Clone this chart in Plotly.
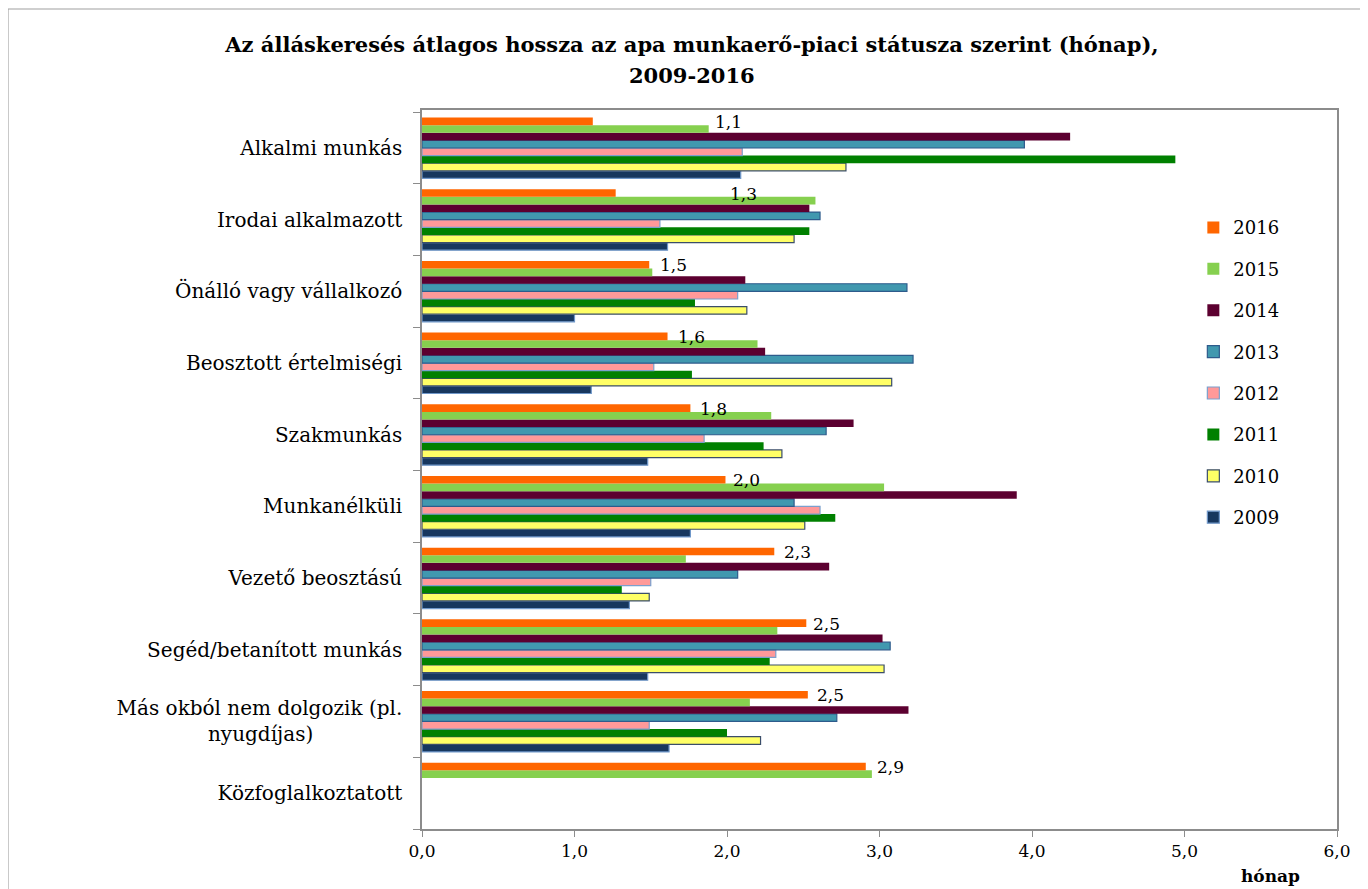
import plotly.graph_objects as go

NB = "\u00a0"
categories = [
    "Alkalmi munkás",
    "Irodai alkalmazott",
    "Önálló vagy vállalkozó",
    "Beosztott értelmiségi",
    "Szakmunkás",
    "Munkanélküli",
    "Vezető beosztású",
    "Segéd/betanított munkás",
    "Más okból nem dolgozik (pl.<br>nyugdíjas)" + NB * 14,
    "Közfoglalkoztatott",
]

years = ["2009", "2010", "2011", "2012", "2013", "2014", "2015", "2016"]

v2016 = [1.12, 1.27, 1.49, 1.61, 1.76, 1.99, 2.31, 2.52, 2.53, 2.91]
v2015 = [1.88, 2.58, 1.51, 2.20, 2.29, 3.03, 1.73, 2.33, 2.15, 2.95]
v2014 = [4.25, 2.54, 2.12, 2.25, 2.83, 3.90, 2.67, 3.02, 3.19, None]
v2013 = [3.95, 2.61, 3.18, 3.22, 2.65, 2.44, 2.07, 3.07, 2.72, None]
v2012 = [2.10, 1.56, 2.07, 1.52, 1.85, 2.61, 1.50, 2.32, 1.49, None]
v2011 = [4.94, 2.54, 1.79, 1.77, 2.24, 2.71, 1.31, 2.28, 2.00, None]
v2010 = [2.78, 2.44, 2.13, 3.08, 2.36, 2.51, 1.49, 3.03, 2.22, None]
v2009 = [2.09, 1.61, 1.00, 1.11, 1.48, 1.76, 1.36, 1.48, 1.62, None]

# horizontal position (centre) of the 2016 value labels
label_x = [2.01, 2.11, 1.65, 1.77, 1.91, 2.13, 2.46, 2.65, 2.68, 3.07]

series = {
    "2009": v2009, "2010": v2010, "2011": v2011, "2012": v2012,
    "2013": v2013, "2014": v2014, "2015": v2015, "2016": v2016,
}
fills = {
    "2009": "#17375E", "2010": "#FFFF66", "2011": "#008000", "2012": "#FF9999",
    "2013": "#4198AF", "2014": "#5C0030", "2015": "#86D04F", "2016": "#FF6600",
}
edges = {
    "2009": ("#6F97C9", 1.2), "2010": ("#3B4E6A", 1.2), "2011": ("#008000", 0),
    "2012": ("#7BA0CD", 1.2), "2013": ("#2E5B8C", 1.2), "2014": ("#5C0030", 0),
    "2015": ("#86D04F", 0), "2016": ("#FF6600", 0),
}

FONT = "DejaVu Serif"

fig = go.Figure()
for i, yr in enumerate(years):
    fig.add_trace(go.Bar(
        y=categories, x=series[yr], name=yr, orientation="h",
        marker=dict(color=fills[yr], line=dict(color=edges[yr][0], width=edges[yr][1])),
        legendgroup=yr, legendrank=1000 - i,
    ))

for cat, v, lx in zip(categories, v2016, label_x):
    fig.add_annotation(
        x=lx, y=cat, xref="x", yref="y", text=f"{v:.1f}".replace(".", ","),
        showarrow=False, yshift=26, font=dict(family=FONT, size=17, color="#000000"),
        xanchor="center", yanchor="middle",
    )

fig.add_annotation(
    x=1.0, y=0, xref="paper", yref="paper", text="<b>hónap</b>", showarrow=False,
    xanchor="right", yanchor="middle", xshift=-35, yshift=-47,
    font=dict(family=FONT, size=17, color="#000000"),
)

# second title line (centred on the whole figure)
fig.add_annotation(
    x=(684 - 414) / 915, y=(821 - 67) / 719, xref="paper", yref="paper",
    xanchor="center", yanchor="middle",
    text="<b>2009-2016</b>", showarrow=False,
    font=dict(family=FONT, size=21, color="#000000"),
)

# outer chart border
fig.add_shape(type="rect", xref="paper", yref="paper",
              x0=-0.4525, x1=1.0295, y0=-0.2, y1=1.1405,
              line=dict(color="#A0A0A0", width=1.2), fillcolor="rgba(0,0,0,0)")

fig.update_layout(
    width=1368, height=889,
    barmode="group", bargap=0.15, bargroupgap=0,
    separators=", ",
    paper_bgcolor="white", plot_bgcolor="white",
    margin=dict(l=414, r=39, t=102, b=68),
    title=dict(
        text="<b>Az álláskeresés átlagos hossza az apa munkaerő-piaci státusza szerint (hónap),</b>",
        x=0.5, xref="container", xanchor="center",
        y=1 - 37 / 889, yref="container", yanchor="middle",
        font=dict(family=FONT, size=21, color="#000000"),
    ),
    font=dict(family=FONT, size=19, color="#000000"),
    legend=dict(
        x=0.843, y=0.862, xanchor="left", yanchor="top",
        traceorder="grouped", tracegroupgap=15,
        font=dict(family=FONT, size=18, color="#000000"),
        bgcolor="rgba(255,255,255,0)",
    ),
    showlegend=True,
)

fig.update_xaxes(
    range=[0, 6], dtick=1, tickformat=".1f",
    showgrid=False, zeroline=False,
    showline=True, linecolor="#8C8C8C", linewidth=1.5, mirror=True,
    ticks="outside", ticklen=6, tickcolor="#8C8C8C",
    tickfont=dict(family=FONT, size=17),
)
fig.update_yaxes(
    categoryorder="array", categoryarray=list(reversed(categories)),
    showgrid=False,
    showline=True, linecolor="#8C8C8C", linewidth=1.5, mirror=True,
    ticks="outside", ticklen=7, tickcolor="#8C8C8C", tickson="boundaries",
    tickfont=dict(family=FONT, size=20),
    ticklabelstandoff=14,
)

fig.write_html("out.html")
